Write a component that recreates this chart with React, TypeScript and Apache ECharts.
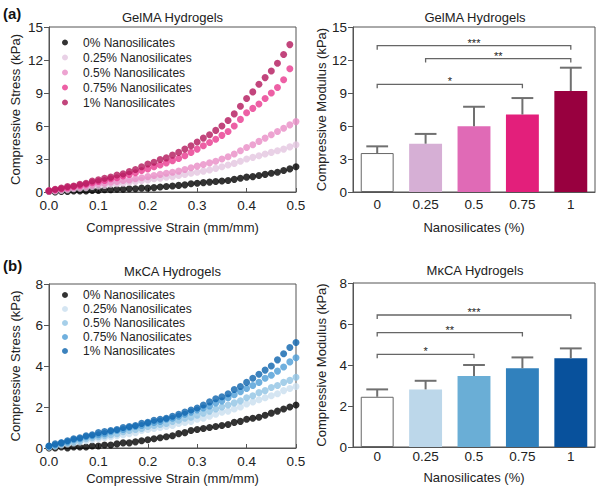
import React, { useEffect, useRef } from "react";
import * as echarts from "echarts";

const FONT = '"Liberation Sans", Arial, Helvetica, sans-serif';
const AXIS_COLOR = "#555";
const TEXT_COLOR = "#222";

// Compressive strain (mm/mm) sample positions
const STRAIN = [
  0, 0.0125, 0.025, 0.0375, 0.05, 0.0625, 0.075, 0.0875, 0.1, 0.1125, 0.125, 0.1375, 0.15, 0.1625,
  0.175, 0.1875, 0.2, 0.2125, 0.225, 0.2375, 0.25, 0.2625, 0.275, 0.2875, 0.3, 0.3125, 0.325,
  0.3375, 0.35, 0.3625, 0.375, 0.3875, 0.4, 0.4125, 0.425, 0.4375, 0.45, 0.4625, 0.475, 0.4875, 0.5,
];

const SERIES_NAMES = [
  "0% Nanosilicates",
  "0.25% Nanosilicates",
  "0.5% Nanosilicates",
  "0.75% Nanosilicates",
  "1% Nanosilicates",
];

// GelMA stress (kPa)
const GELMA_0 = [0.05, 0.0, 0.05, 0.05, 0.1, 0.1, 0.1, 0.15, 0.15, 0.2, 0.2, 0.25, 0.25, 0.3, 0.3, 0.35, 0.35, 0.4, 0.45, 0.5, 0.55, 0.6, 0.65, 0.75, 0.8, 0.85, 0.9, 0.95, 1.0, 1.05, 1.15, 1.25, 1.35, 1.4, 1.5, 1.6, 1.7, 1.8, 1.95, 2.1, 2.3];
const GELMA_025 = [0.05, 0.1, 0.15, 0.2, 0.3, 0.35, 0.4, 0.5, 0.55, 0.6, 0.7, 0.75, 0.8, 0.9, 0.95, 1.05, 1.1, 1.2, 1.25, 1.35, 1.4, 1.5, 1.6, 1.7, 1.8, 1.9, 2.0, 2.15, 2.3, 2.45, 2.6, 2.8, 3.0, 3.15, 3.3, 3.45, 3.6, 3.75, 3.9, 4.1, 4.3];
const GELMA_05 = [0.1, 0.15, 0.25, 0.3, 0.4, 0.45, 0.55, 0.65, 0.75, 0.8, 0.9, 0.95, 1.05, 1.1, 1.2, 1.3, 1.4, 1.5, 1.6, 1.7, 1.8, 1.9, 2.05, 2.2, 2.35, 2.5, 2.65, 2.8, 3.0, 3.2, 3.45, 3.75, 4.05, 4.3, 4.6, 4.9, 5.2, 5.5, 5.8, 6.1, 6.4];
const GELMA_075 = [0.1, 0.2, 0.3, 0.4, 0.5, 0.6, 0.7, 0.85, 0.95, 1.05, 1.2, 1.3, 1.45, 1.6, 1.75, 1.95, 2.1, 2.3, 2.45, 2.65, 2.85, 3.05, 3.3, 3.6, 3.9, 4.2, 4.5, 4.8, 5.15, 5.5, 6.0, 6.6, 7.2, 7.6, 8.0, 8.5, 9.0, 9.5, 10.2, 11.2, null];
const GELMA_1 = [0.1, 0.25, 0.35, 0.5, 0.55, 0.7, 0.8, 1.0, 1.1, 1.25, 1.35, 1.55, 1.65, 1.85, 2.05, 2.3, 2.55, 2.7, 2.95, 3.1, 3.35, 3.6, 3.9, 4.2, 4.55, 4.9, 5.2, 5.6, 6.0, 6.5, 7.1, 7.8, 8.5, 9.1, 9.8, 10.4, 11.0, 11.7, 12.5, 13.4, null];

// MkCA stress (kPa)
const MKCA_0 = [0.0, 0.0, 0.05, 0.0, 0.05, 0.05, 0.05, 0.1, 0.1, 0.15, 0.15, 0.2, 0.25, 0.25, 0.3, 0.35, 0.4, 0.45, 0.5, 0.55, 0.6, 0.7, 0.75, 0.85, 0.9, 0.95, 1.0, 1.05, 1.1, 1.15, 1.25, 1.3, 1.4, 1.45, 1.5, 1.6, 1.7, 1.8, 1.9, 2.0, 2.1];
const MKCA_025 = [0.05, 0.1, 0.15, 0.2, 0.25, 0.3, 0.35, 0.4, 0.45, 0.5, 0.55, 0.6, 0.65, 0.7, 0.75, 0.85, 0.9, 0.95, 1.0, 1.05, 1.1, 1.2, 1.25, 1.3, 1.4, 1.45, 1.55, 1.65, 1.75, 1.8, 1.9, 2.0, 2.15, 2.25, 2.35, 2.45, 2.55, 2.65, 2.8, 2.9, 3.0];
const MKCA_05 = [0.05, 0.1, 0.2, 0.25, 0.3, 0.35, 0.45, 0.5, 0.55, 0.6, 0.65, 0.7, 0.8, 0.85, 0.9, 0.95, 1.05, 1.1, 1.15, 1.2, 1.3, 1.35, 1.45, 1.5, 1.6, 1.7, 1.8, 1.9, 2.0, 2.1, 2.2, 2.3, 2.45, 2.55, 2.7, 2.8, 2.95, 3.05, 3.2, 3.3, 3.45];
const MKCA_075 = [0.1, 0.15, 0.25, 0.3, 0.4, 0.45, 0.55, 0.6, 0.65, 0.7, 0.8, 0.85, 0.9, 1.0, 1.05, 1.1, 1.2, 1.25, 1.3, 1.4, 1.45, 1.55, 1.65, 1.75, 1.85, 1.95, 2.05, 2.2, 2.3, 2.45, 2.6, 2.75, 2.9, 3.05, 3.2, 3.4, 3.55, 3.75, 3.95, 4.2, 4.4];
const MKCA_1 = [0.1, 0.2, 0.25, 0.35, 0.45, 0.5, 0.6, 0.65, 0.75, 0.8, 0.85, 0.9, 1.0, 1.05, 1.1, 1.2, 1.25, 1.35, 1.4, 1.45, 1.55, 1.65, 1.75, 1.85, 1.95, 2.1, 2.25, 2.4, 2.5, 2.65, 2.85, 3.0, 3.2, 3.4, 3.6, 3.8, 4.0, 4.3, 4.6, 4.9, 5.15];

// Bar charts
const CONC = ["0", "0.25", "0.5", "0.75", "1"];
const GELMA_MOD = [3.54, 4.39, 5.97, 7.04, 9.18];
const GELMA_ERR = [4.15, 5.28, 7.75, 8.54, 11.3];
const MKCA_MOD = [2.45, 2.81, 3.46, 3.84, 4.33];
const MKCA_ERR = [2.81, 3.23, 4.0, 4.37, 4.81];
const GELMA_SIG: [number, number, number, string][] = [
  [0, 4, 13.3, "***"],
  [1, 4, 12.13, "**"],
  [0, 3, 9.79, "*"],
];
const MKCA_SIG: [number, number, number, string][] = [
  [0, 4, 6.44, "***"],
  [0, 3, 5.58, "**"],
  [0, 2, 4.52, "*"],
];

const GELMA_SCATTER_COLORS = ["#000000", "#e3c6e0", "#e98cc6", "#e8388f", "#b3175b"];
const GELMA_BAR_COLORS = ["#ffffff", "#d6afd5", "#e06ab6", "#e31f7b", "#98003f"];
const MKCA_SCATTER_COLORS = ["#000000", "#c9deef", "#90c3e4", "#4c9cd6", "#0b63ad"];
const MKCA_BAR_COLORS = ["#ffffff", "#bcd7ea", "#6aaed6", "#3181bd", "#08519c"];

type Box = { left: number; top: number; width: number; height: number };
type Cfg = {
  letter: string;
  title: string;
  scatter: (number | null)[][];
  scatterColors: string[];
  yMaxS: number;
  yIntS: number;
  mod: number[];
  err: number[];
  sig: [number, number, number, string][];
  barColors: string[];
  gridS: Box;
  gridB: Box;
  xLabelMarginS: number;
  xLabelMarginB: number;
  xNameGapS: number;
  xNameGapB: number;
  legendTop: number;
  legendLine: number;
  letterY: number;
  titleYS: number;
  titleYB: number;
};

function buildOption(c: Cfg) {
  const axisLine = { show: true, lineStyle: { color: AXIS_COLOR, width: 1 } };
  const labelStyle = { fontFamily: FONT, fontSize: 13.5, color: TEXT_COLOR, lineHeight: 12 };
  const nameStyle = { fontFamily: FONT, fontSize: 13, color: TEXT_COLOR };

  const scatterSeries = c.scatter.map((vals, k) => ({
    type: "scatter",
    name: SERIES_NAMES[k],
    xAxisIndex: 0,
    yAxisIndex: 0,
    symbol: "circle",
    symbolSize: 7,
    itemStyle: { color: c.scatterColors[k] },
    data: STRAIN.map((x, i) => [x, vals[i]]).filter((p) => p[1] !== null),
    z: 2 + k,
  }));

  const barData = c.mod.map((v, i) => ({
    value: v,
    itemStyle:
      i === 0
        ? { color: c.barColors[i], borderColor: "#666", borderWidth: 1 }
        : { color: c.barColors[i] },
  }));

  return {
    animation: false,
    textStyle: { fontFamily: FONT },
    grid: [
      { ...c.gridS, show: true, borderColor: AXIS_COLOR, borderWidth: 1, containLabel: false },
      { ...c.gridB, show: true, borderColor: AXIS_COLOR, borderWidth: 1, containLabel: false },
    ],
    legend: {
      data: SERIES_NAMES,
      orient: "vertical",
      left: c.gridS.left + 13,
      top: c.legendTop,
      padding: 0,
      itemGap: 0,
      itemWidth: 26,
      itemHeight: 6,
      icon: "circle",
      selectedMode: false,
      textStyle: { fontFamily: FONT, fontSize: 12, color: TEXT_COLOR, lineHeight: c.legendLine },
    },
    xAxis: [
      {
        type: "value",
        gridIndex: 0,
        min: 0,
        max: 0.5,
        interval: 0.1,
        axisLine,
        axisTick: { show: true, inside: true, length: 4, lineStyle: { color: AXIS_COLOR } },
        axisLabel: { ...labelStyle, margin: c.xLabelMarginS, formatter: (v: number) => v.toFixed(1) },
        splitLine: { show: false },
        name: "Compressive Strain (mm/mm)",
        nameLocation: "middle",
        nameGap: c.xNameGapS,
        nameTextStyle: nameStyle,
      },
      {
        type: "category",
        gridIndex: 1,
        data: CONC,
        axisLine,
        axisTick: { show: false },
        axisLabel: { ...labelStyle, margin: c.xLabelMarginB },
        name: "Nanosilicates (%)",
        nameLocation: "middle",
        nameGap: c.xNameGapB,
        nameTextStyle: nameStyle,
      },
    ],
    yAxis: [
      {
        type: "value",
        gridIndex: 0,
        min: 0,
        max: c.yMaxS,
        interval: c.yIntS,
        axisLine,
        axisTick: { show: true, length: 5, lineStyle: { color: AXIS_COLOR } },
        axisLabel: { ...labelStyle, margin: 6 },
        splitLine: { show: false },
        name: "Compressive Stress (kPa)",
        nameLocation: "middle",
        nameGap: 27,
        nameTextStyle: nameStyle,
      },
      {
        type: "value",
        gridIndex: 1,
        min: 0,
        max: c.yMaxS,
        interval: c.yIntS,
        axisLine,
        axisTick: { show: true, length: 5, lineStyle: { color: AXIS_COLOR } },
        axisLabel: { ...labelStyle, margin: 6 },
        splitLine: { show: false },
        name: "Compressive Modulus (kPa)",
        nameLocation: "middle",
        nameGap: 25,
        nameTextStyle: nameStyle,
      },
    ],
    series: [
      ...scatterSeries,
      {
        type: "bar",
        name: "modulus",
        xAxisIndex: 1,
        yAxisIndex: 1,
        barCategoryGap: "32%",
        data: barData,
        z: 2,
      },
      {
        type: "custom",
        name: "error",
        xAxisIndex: 1,
        yAxisIndex: 1,
        z: 3,
        encode: { x: 0, y: [1, 2] },
        data: c.mod.map((v, i) => [i, v, c.err[i]]),
        renderItem: (params: any, api: any) => {
          const i = api.value(0);
          const base = api.coord([i, api.value(1)]);
          const top = api.coord([i, api.value(2)]);
          const w = api.size([1, 0])[0] * 0.45;
          const st = { stroke: "#707070", lineWidth: 2 };
          return {
            type: "group",
            children: [
              { type: "line", shape: { x1: top[0], y1: base[1], x2: top[0], y2: top[1] }, style: st },
              { type: "line", shape: { x1: top[0] - w / 2, y1: top[1], x2: top[0] + w / 2, y2: top[1] }, style: st },
            ],
          };
        },
      },
      {
        type: "custom",
        name: "significance",
        xAxisIndex: 1,
        yAxisIndex: 1,
        z: 4,
        encode: { x: [0, 1], y: 2 },
        data: c.sig.map((s) => [s[0], s[1], s[2]]),
        renderItem: (params: any, api: any) => {
          const p1 = api.coord([api.value(0), api.value(2)]);
          const p2 = api.coord([api.value(1), api.value(2)]);
          const label = c.sig[params.dataIndex][3];
          return {
            type: "group",
            children: [
              {
                type: "polyline",
                shape: { points: [[p1[0], p1[1] + 4], [p1[0], p1[1]], [p2[0], p1[1]], [p2[0], p1[1] + 4]] },
                style: { stroke: "#666", lineWidth: 1.3, fill: null },
              },
              {
                type: "text",
                x: (p1[0] + p2[0]) / 2,
                y: p1[1] - 3,
                style: { text: label, fontSize: 11, fontFamily: FONT, fill: TEXT_COLOR, align: "center", verticalAlign: "middle" },
              },
            ],
          };
        },
      },
    ],
    graphic: [
      {
        type: "text",
        x: 3,
        y: c.letterY,
        style: { text: c.letter, fontSize: 15, fontWeight: "bold", fontFamily: FONT, fill: "#111", align: "left", verticalAlign: "middle" },
      },
      {
        type: "text",
        x: c.gridS.left + c.gridS.width / 2,
        y: c.titleYS,
        style: { text: c.title, fontSize: 13, fontFamily: FONT, fill: TEXT_COLOR, align: "center", verticalAlign: "middle" },
      },
      {
        type: "text",
        x: c.gridB.left + c.gridB.width / 2 + 1,
        y: c.titleYB,
        style: { text: c.title, fontSize: 13, fontFamily: FONT, fill: TEXT_COLOR, align: "center", verticalAlign: "middle" },
      },
    ],
  };
}

const GELMA_CFG: Cfg = {
  letter: "(a)",
  title: "GelMA Hydrogels",
  scatter: [GELMA_0, GELMA_025, GELMA_05, GELMA_075, GELMA_1],
  scatterColors: GELMA_SCATTER_COLORS,
  yMaxS: 15,
  yIntS: 3,
  mod: GELMA_MOD,
  err: GELMA_ERR,
  sig: GELMA_SIG,
  barColors: GELMA_BAR_COLORS,
  gridS: { left: 49, top: 27, width: 247, height: 165 },
  gridB: { left: 353, top: 27, width: 242, height: 165 },
  xLabelMarginS: 7,
  xLabelMarginB: 6,
  xNameGapS: 29,
  xNameGapB: 29,
  legendTop: 35,
  legendLine: 15,
  letterY: 13,
  titleYS: 17,
  titleYB: 17,
};

const MKCA_CFG: Cfg = {
  letter: "(b)",
  title: "MκCA Hydrogels",
  scatter: [MKCA_0, MKCA_025, MKCA_05, MKCA_075, MKCA_1],
  scatterColors: MKCA_SCATTER_COLORS,
  yMaxS: 8,
  yIntS: 2,
  mod: MKCA_MOD,
  err: MKCA_ERR,
  sig: MKCA_SIG,
  barColors: MKCA_BAR_COLORS,
  gridS: { left: 49, top: 284, width: 247, height: 164 },
  gridB: { left: 353, top: 283, width: 242, height: 164 },
  xLabelMarginS: 7.5,
  xLabelMarginB: 3,
  xNameGapS: 24,
  xNameGapB: 24,
  legendTop: 288,
  legendLine: 14,
  letterY: 265,
  titleYS: 271,
  titleYB: 270,
};

function ChartLayer({ cfg }: { cfg: Cfg }) {
  const ref = useRef<HTMLDivElement>(null);
  useEffect(() => {
    if (!ref.current) return;
    const chart = echarts.init(ref.current, null, { renderer: "svg" });
    chart.setOption(buildOption(cfg) as any);
    return () => chart.dispose();
  }, [cfg]);
  return <div ref={ref} style={{ position: "absolute", left: 0, top: 0, width: 604, height: 491 }} />;
}

export default function App() {
  return (
    <div style={{ position: "absolute", left: 0, top: 0, width: 604, height: 491, background: "#fff" }}>
      <ChartLayer cfg={GELMA_CFG} />
      <ChartLayer cfg={MKCA_CFG} />
    </div>
  );
}
